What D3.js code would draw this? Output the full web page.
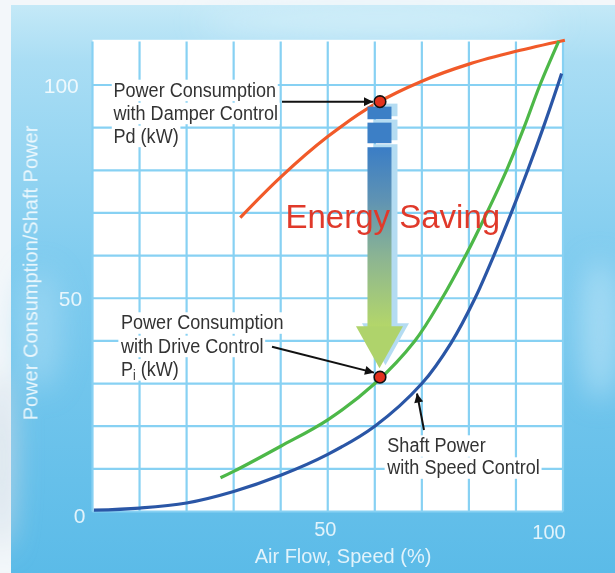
<!DOCTYPE html>
<html>
<head>
<meta charset="utf-8">
<script src="https://cdn.jsdelivr.net/npm/d3@7"></script>
<style>
  html, body { margin: 0; padding: 0; background: #fff; }
  svg { display: block; }
</style>
</head>
<body>
<svg id="chart" width="615" height="573"></svg>
<script>
// Values (x = air flow %, y = power %)
var xTickValues = [50, 100];
var yTickValues = [0, 50, 100];
var gridValues = [0, 10, 20, 30, 40, 50, 60, 70, 80, 90, 100];

var damperFlow  = [31.4, 40, 50, 60, 70, 80, 90, 100.4];
var damperPower = [68.9, 78.4, 87.9, 95.5, 100.9, 104.9, 107.9, 110.5];

var driveFlow  = [27.2, 30, 40, 50, 60, 68.5, 74.3, 79.3, 83.8, 88, 91.7, 95.1, 99.1];
var drivePower = [7.9, 9.4, 15.3, 21.5, 30, 40, 50, 60, 70, 80, 90, 100, 110.3];

var shaftFlow  = [0.3, 10, 20, 30, 40, 50, 60, 70, 76.2, 81.3, 85.3, 89, 92.5, 95.8, 98.9, 99.7];
var shaftPower = [0.3, 0.8, 2.0, 4.7, 8.5, 13.4, 20, 30, 39.5, 50, 60, 70, 80, 90, 100, 102.7];

var operatingFlow = 61.1;
var damperAtPoint = 96.1;
var driveAtPoint = 31.5;

var labelFont = "'Liberation Sans', Arial, Helvetica, sans-serif";

var svg = d3.select("#chart");
var defs = svg.append("defs");

var x = d3.scaleLinear().domain([0, 100]).range([92.5, 563]);
var y = d3.scaleLinear().domain([0, 100]).range([511.5, 85]);

/* ---- background: sky blue with soft clouds ---- */
var bg = defs.append("linearGradient").attr("id", "sky")
  .attr("x1", 0).attr("y1", 0).attr("x2", 0).attr("y2", 1);
[[0, "#c4e9f7"], [0.1, "#a9ddf4"], [0.45, "#80ccef"], [1, "#5bbbe8"]].forEach(function (s) {
  bg.append("stop").attr("offset", s[0]).attr("stop-color", s[1]);
});
defs.append("filter").attr("id", "blur").attr("x", "-50%").attr("y", "-50%")
  .attr("width", "200%").attr("height", "200%")
  .append("feGaussianBlur").attr("stdDeviation", 14);

svg.append("rect").attr("width", 615).attr("height", 573).attr("fill", "#f3f7fa");
svg.append("rect").attr("x", 11).attr("y", 5).attr("width", 604).attr("height", 568)
  .attr("fill", "url(#sky)");

var clouds = svg.append("g").attr("filter", "url(#blur)");
clouds.append("ellipse").attr("cx", 380).attr("cy", 22).attr("rx", 180).attr("ry", 14)
  .attr("fill", "#dcf2fb").attr("opacity", 0.7);
clouds.append("ellipse").attr("cx", 600).attr("cy", 330).attr("rx", 20).attr("ry", 70)
  .attr("fill", "#bfe6f8").attr("opacity", 0.6);
clouds.append("ellipse").attr("cx", 40).attr("cy", 330).attr("rx", 22).attr("ry", 60)
  .attr("fill", "#a7daf4").attr("opacity", 0.6);
clouds.append("ellipse").attr("cx", 2).attr("cy", 460).attr("rx", 10).attr("ry", 90)
  .attr("fill", "#c9d9e6").attr("opacity", 0.9);

/* ---- plot area and grid ---- */
svg.append("rect")
  .attr("x", x(0)).attr("y", y(110.6))
  .attr("width", x(100) - x(0)).attr("height", y(0) - y(110.6))
  .attr("fill", "#fff");

var grid = svg.append("g").attr("stroke", "#87d1f3").attr("stroke-width", 2.2);
grid.selectAll(".vgrid").data(gridValues).enter().append("line")
  .attr("class", "vgrid")
  .attr("x1", function (d) { return x(d); }).attr("x2", function (d) { return x(d); })
  .attr("y1", y(110.2)).attr("y2", y(0));
grid.selectAll(".hgrid").data(gridValues).enter().append("line")
  .attr("class", "hgrid")
  .attr("x1", x(0)).attr("x2", x(100))
  .attr("y1", function (d) { return y(d); }).attr("y2", function (d) { return y(d); });

/* ---- axes (labels only) ---- */
var tickColor = "rgba(255,255,255,0.82)";

var yAxis = svg.append("g").attr("transform", "translate(" + x(0) + ",0)")
  .call(d3.axisLeft(y).tickValues(yTickValues).tickSize(0).tickPadding(10));
yAxis.select(".domain").remove();
yAxis.selectAll("text")
  .attr("x", function (d) { return -7 - d * 0.067; })
  .attr("dy", function (d) { return d === 0 ? "0.5em" : "0.35em"; })
  .style("font-family", labelFont).style("font-size", "21px").style("fill", tickColor);

var xAxis = svg.append("g").attr("transform", "translate(0," + y(0) + ")")
  .call(d3.axisBottom(x).tickValues(xTickValues).tickSize(0).tickPadding(8));
xAxis.select(".domain").remove();
xAxis.selectAll("text")
  .attr("x", function (d) { return -3 - (d - 50) * 0.23; })
  .attr("dy", function (d) { return d === 100 ? "0.95em" : "0.82em"; })
  .style("font-family", labelFont).style("font-size", "20px").style("fill", tickColor);

svg.append("text")
  .attr("x", 343).attr("y", 563)
  .attr("text-anchor", "middle")
  .style("font-family", labelFont).style("font-size", "20px").style("fill", tickColor)
  .text("Air Flow, Speed (%)");

svg.append("text")
  .attr("transform", "translate(37.5,273) rotate(-90)")
  .attr("text-anchor", "middle")
  .style("font-family", labelFont).style("font-size", "20px").style("fill", tickColor)
  .text("Power Consumption/Shaft Power");

/* ---- curves ---- */
function drawCurve(xs, ys, color) {
  var pts = xs.map(function (v, i) { return [v, ys[i]]; });
  var line = d3.line()
    .x(function (d) { return x(d[0]); })
    .y(function (d) { return y(d[1]); })
    .curve(d3.curveCatmullRom.alpha(0.5));
  svg.append("path")
    .datum(pts)
    .attr("d", line)
    .attr("fill", "none")
    .attr("stroke", color)
    .attr("stroke-width", 3.2)
    .attr("stroke-linecap", "butt");
}
drawCurve(damperFlow, damperPower, "#f15a29");
drawCurve(driveFlow, drivePower, "#4db848");
drawCurve(shaftFlow, shaftPower, "#2a56a6");

/* ---- the big "energy saving" arrow ---- */
var cx = x(operatingFlow) - 0.5;
var topY = y(damperAtPoint);
var tipY = y(driveAtPoint) - 9;
var shaftGrad = defs.append("linearGradient").attr("id", "shaftGrad")
  .attr("gradientUnits", "userSpaceOnUse")
  .attr("x1", 0).attr("y1", topY + 45).attr("x2", 0).attr("y2", tipY - 42);
[[0, "#3a7dc6"], [0.3, "#5f93b3"], [0.62, "#8cb592"], [1, "#b3d66a"]].forEach(function (s) {
  shaftGrad.append("stop").attr("offset", s[0]).attr("stop-color", s[1]);
});

function bigArrow(g, dx, dy, shadow) {
  var c = cx + dx;
  g.append("rect").attr("x", c - 12).attr("y", topY + 5 + dy).attr("width", 24).attr("height", 12.6)
    .attr("fill", shadow || "#3c7fc6");
  g.append("rect").attr("x", c - 12).attr("y", topY + 21 + dy).attr("width", 24).attr("height", 20.6)
    .attr("fill", shadow || "#3c7fc6");
  g.append("rect").attr("x", c - 12).attr("y", topY + 45.6 + dy).attr("width", 24)
    .attr("height", tipY - 42 - (topY + 45.6) + 1)
    .attr("fill", shadow || "url(#shaftGrad)");
  g.append("path")
    .attr("d", "M" + (c - 23.5) + "," + (tipY - 42 + dy) +
      "L" + (c + 23.5) + "," + (tipY - 42 + dy) +
      "L" + c + "," + (tipY + dy) + "Z")
    .attr("fill", shadow || "#afd36b");
}
var arrowG = svg.append("g");
bigArrow(arrowG, 6, -3, "#b4dcf2");
bigArrow(arrowG, 0, 0, null);

svg.append("text")
  .attr("x", 285.5).attr("y", 228.3)
  .style("font-family", labelFont).style("font-size", "33px").style("fill", "#e0392a")
  .text("Energy Saving");

/* ---- annotations with white knock-out boxes ---- */
function annotate(lines, x0, baseline0, step) {
  lines.forEach(function (ln, i) {
    var g = svg.append("g")
      .attr("transform", "translate(" + x0 + "," + (baseline0 + i * step) + ") scale(0.86,1)");
    var rect = g.append("rect").attr("fill", "#fff");
    var t = g.append("text")
      .style("font-family", labelFont).style("font-size", "21px").style("fill", "#333");
    ln.forEach(function (part) {
      var ts = t.append("tspan").text(part.text);
      if (part.sub) ts.attr("dy", 4).style("font-size", "14px");
      if (part.up) ts.attr("dy", -4);
    });
    var b = t.node().getBBox();
    rect.attr("x", b.x - 2).attr("y", -17).attr("width", b.width + 4).attr("height", 21.5);
  });
}
annotate([[{ text: "Power Consumption" }], [{ text: "with Damper Control" }], [{ text: "Pd (kW)" }]],
  113.5, 96.7, 23);
annotate([[{ text: "Power Consumption" }], [{ text: "with Drive Control" }],
  [{ text: "P" }, { text: "i", sub: true }, { text: " (kW)", up: true }]],
  121, 329.3, 23.4);
annotate([[{ text: "Shaft Power" }], [{ text: "with Speed Control" }]], 387.3, 452.3, 22);

defs.append("marker").attr("id", "head")
  .attr("viewBox", "0 0 10 10").attr("refX", 10).attr("refY", 5)
  .attr("markerWidth", 10).attr("markerHeight", 9)
  .attr("markerUnits", "userSpaceOnUse").attr("orient", "auto")
  .append("path").attr("d", "M0,0L10,5L0,10Z").attr("fill", "#111");

var pointers = [
  [282, y(damperAtPoint), x(operatingFlow) - 7, y(damperAtPoint)],
  [272, 346.7, x(operatingFlow) - 6, y(driveAtPoint) - 4.5],
  [424, 430, 417, 393.5]
];
svg.selectAll(".pointer").data(pointers).enter().append("line")
  .attr("class", "pointer")
  .attr("x1", function (d) { return d[0]; }).attr("y1", function (d) { return d[1]; })
  .attr("x2", function (d) { return d[2]; }).attr("y2", function (d) { return d[3]; })
  .attr("stroke", "#111").attr("stroke-width", 2)
  .attr("marker-end", "url(#head)");

/* ---- operating point markers ---- */
svg.selectAll(".opPoint").data([damperAtPoint, driveAtPoint]).enter().append("circle")
  .attr("class", "opPoint")
  .attr("cx", x(operatingFlow)).attr("cy", function (d) { return y(d); })
  .attr("r", 5.8)
  .attr("fill", "#e2321e").attr("stroke", "#111").attr("stroke-width", 1.6);
</script>
</body>
</html>
